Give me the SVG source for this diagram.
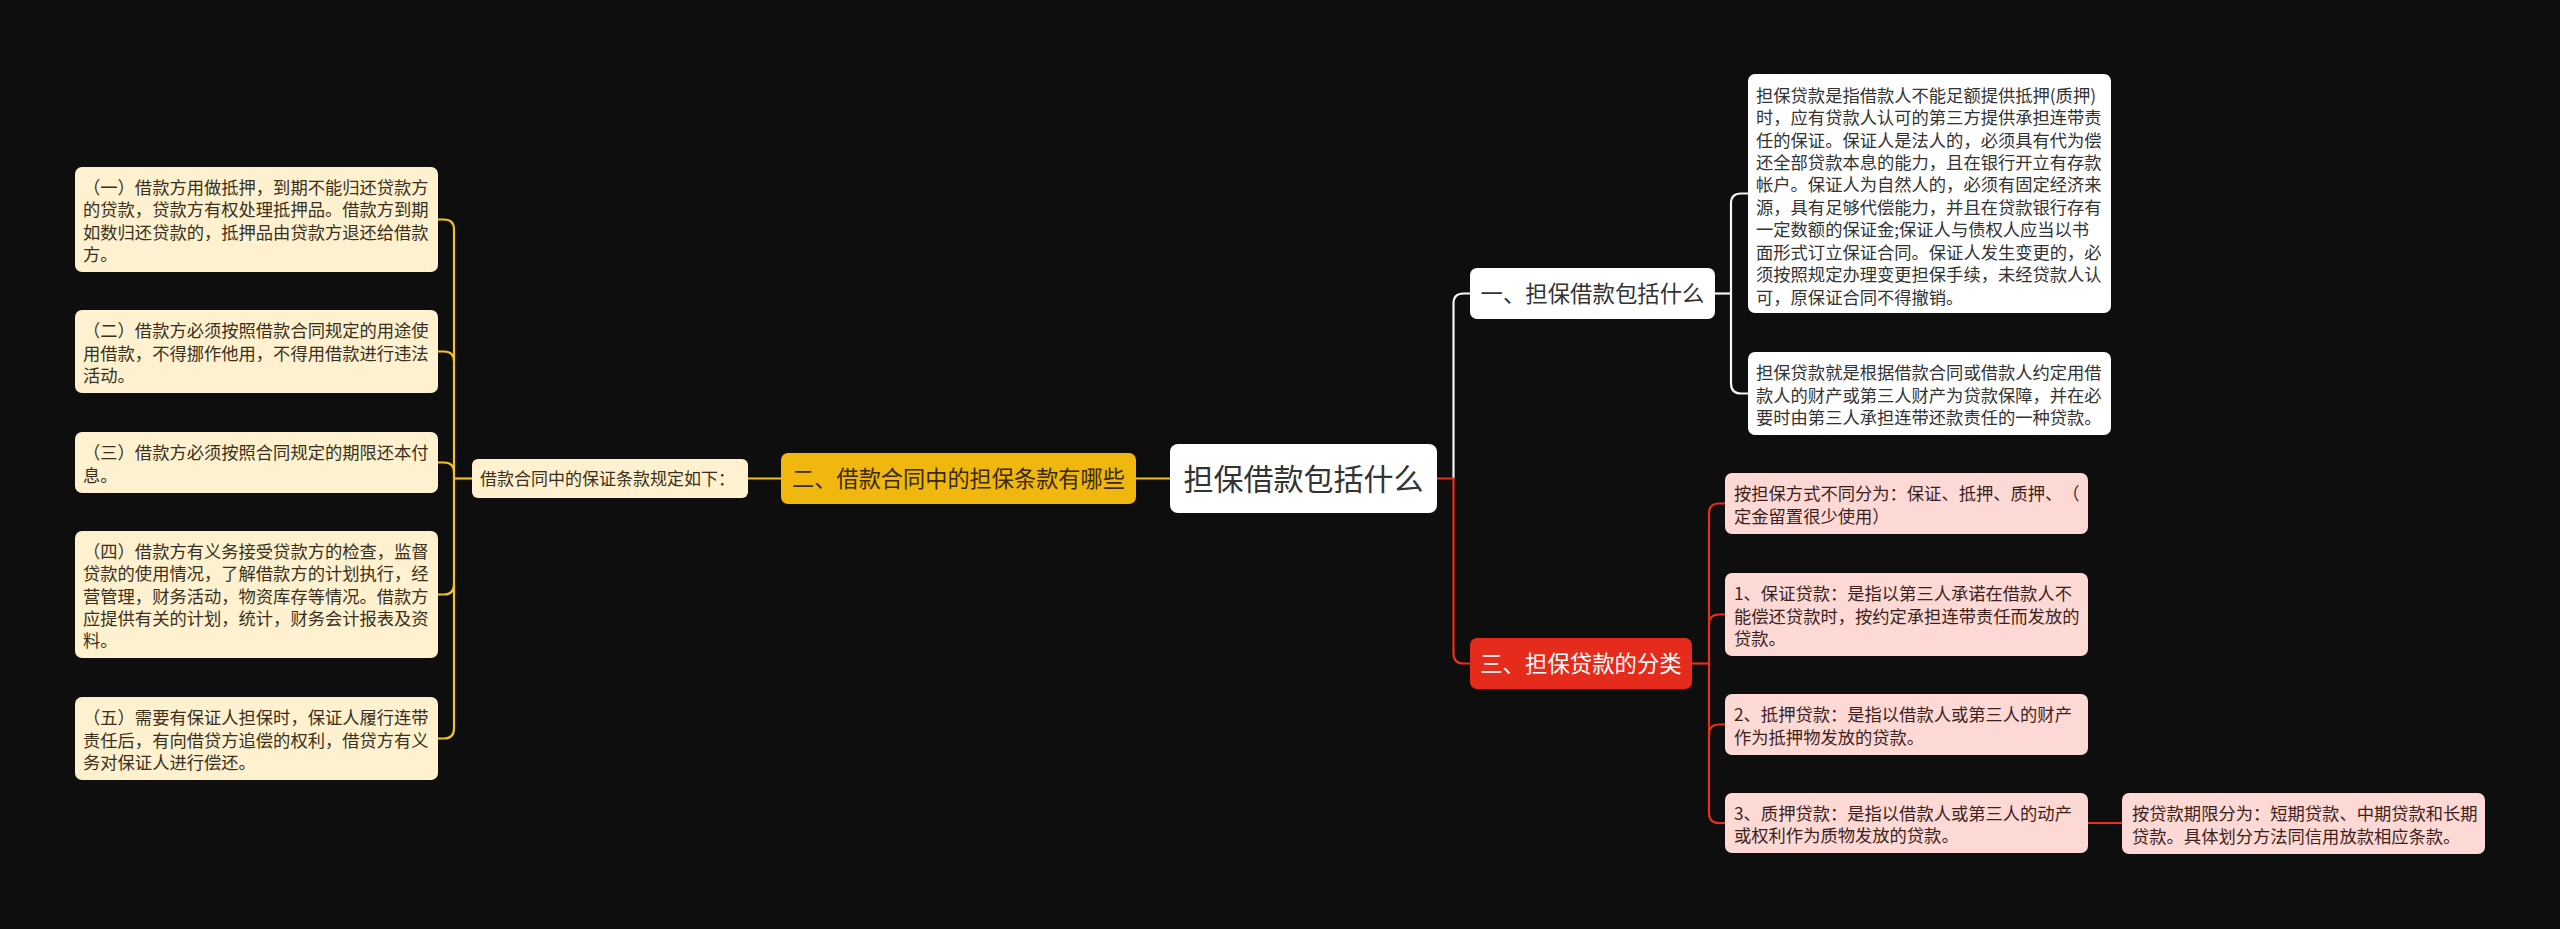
<svg xmlns="http://www.w3.org/2000/svg" width="2560" height="929" viewBox="0 0 2560 929">
<style>
text{font-family:"Noto Sans CJK SC","Noto Sans",sans-serif;text-spacing-trim:space-all;}
.t{font-size:17.3px;}
.cream{fill:#fdf1cf;}
.ct{fill:#3b3020;}
.white{fill:#ffffff;}
.wt{fill:#333333;}
.pink{fill:#fdd9d6;}
.pt{fill:#3d1f1c;}
.ly{fill:none;stroke:#f2c02a;stroke-width:2.2;}
.lw{fill:none;stroke:#f5f5f5;stroke-width:2.2;}
.lr{fill:none;stroke:#e3301f;stroke-width:2.2;}
</style>
<rect x="0" y="0" width="2560" height="929" fill="#0e0e0e"/>
<g id="connectors">
<path class="ly" d="M1170,478.5 H1136"/>
<path class="ly" d="M781,478.5 H748"/>
<path class="ly" d="M472,478.5 H454"/>
<path class="ly" d="M438,219.5 H444 Q454,219.5 454,229.5 V728.5 Q454,738.5 444,738.5 H438"/>
<path class="ly" d="M438,351.5 H444 Q454,351.5 454,361.5"/>
<path class="ly" d="M438,462.5 H444 Q454,462.5 454,472.5"/>
<path class="ly" d="M438,594.5 H444 Q454,594.5 454,584.5"/>
<path class="lw" d="M1453.5,478.5 V303.5 Q1453.5,293.5 1463.5,293.5 H1470"/>
<path class="lr" d="M1437,478.5 H1453.5 V653.5 Q1453.5,663.5 1463.5,663.5 H1470"/>
<path class="lw" d="M1715,293.5 H1731"/>
<path class="lw" d="M1748,193.5 H1741 Q1731,193.5 1731,203.5 V383.5 Q1731,393.5 1741,393.5 H1748"/>
<path class="lr" d="M1692,663.5 H1709"/>
<path class="lr" d="M1725,503.5 H1719 Q1709,503.5 1709,513.5 V813 Q1709,823 1719,823 H1725"/>
<path class="lr" d="M1725,614.5 H1719 Q1709,614.5 1709,624.5"/>
<path class="lr" d="M1725,724.5 H1719 Q1709,724.5 1709,734.5"/>
<path class="lr" d="M2088,823 H2122"/>
</g>
<g id="root">
<rect x="1170" y="444" width="267" height="69" rx="8" class="white"/>
<text x="1303.5" y="490" text-anchor="middle" font-size="30" class="wt">担保借款包括什么</text>
</g>
<g id="n2">
<rect x="781" y="453" width="355" height="51" rx="7" fill="#f0b70e"/>
<text x="958.5" y="487" text-anchor="middle" font-size="22.2" fill="#3a2a06">二、借款合同中的担保条款有哪些</text>
</g>
<g id="n2-label">
<rect x="472" y="459" width="276" height="39" rx="6" class="cream"/>
<text x="480" y="485" font-size="17" class="ct">借款合同中的保证条款规定如下：</text>
</g>
<g id="l1">
<rect x="75" y="167" width="363" height="105" rx="7" class="cream"/>
<text class="t ct" x="83"><tspan x="83" y="193.9">（一）借款方用做抵押，到期不能归还贷款方</tspan><tspan x="83" y="216.3">的贷款，贷款方有权处理抵押品。借款方到期</tspan><tspan x="83" y="238.7">如数归还贷款的，抵押品由贷款方退还给借款</tspan><tspan x="83" y="261.1">方。</tspan></text>
</g>
<g id="l2">
<rect x="75" y="310" width="363" height="83" rx="7" class="cream"/>
<text class="t ct"><tspan x="83" y="337.1">（二）借款方必须按照借款合同规定的用途使</tspan><tspan x="83" y="359.5">用借款，不得挪作他用，不得用借款进行违法</tspan><tspan x="83" y="381.9">活动。</tspan></text>
</g>
<g id="l3">
<rect x="75" y="432" width="363" height="61" rx="7" class="cream"/>
<text class="t ct"><tspan x="83" y="459.3">（三）借款方必须按照合同规定的期限还本付</tspan><tspan x="83" y="481.7">息。</tspan></text>
</g>
<g id="l4">
<rect x="75" y="531" width="363" height="127" rx="7" class="cream"/>
<text class="t ct"><tspan x="83" y="557.7">（四）借款方有义务接受贷款方的检查，监督</tspan><tspan x="83" y="580.1">贷款的使用情况，了解借款方的计划执行，经</tspan><tspan x="83" y="602.5">营管理，财务活动，物资库存等情况。借款方</tspan><tspan x="83" y="624.9">应提供有关的计划，统计，财务会计报表及资</tspan><tspan x="83" y="647.3">料。</tspan></text>
</g>
<g id="l5">
<rect x="75" y="697" width="363" height="83" rx="7" class="cream"/>
<text class="t ct"><tspan x="83" y="724.1">（五）需要有保证人担保时，保证人履行连带</tspan><tspan x="83" y="746.5">责任后，有向借贷方追偿的权利，借贷方有义</tspan><tspan x="83" y="768.9">务对保证人进行偿还。</tspan></text>
</g>
<g id="n1">
<rect x="1470" y="268" width="245" height="51" rx="7" class="white"/>
<text x="1592.5" y="302" text-anchor="middle" font-size="22.4" class="wt">一、担保借款包括什么</text>
</g>
<g id="r1">
<rect x="1748" y="74" width="363" height="239" rx="7" class="white"/>
<text class="t wt"><tspan x="1756" y="101.6">担保贷款是指借款人不能足额提供抵押(质押)</tspan><tspan x="1756" y="124.05">时，应有贷款人认可的第三方提供承担连带责</tspan><tspan x="1756" y="146.5">任的保证。保证人是法人的，必须具有代为偿</tspan><tspan x="1756" y="168.95">还全部贷款本息的能力，且在银行开立有存款</tspan><tspan x="1756" y="191.4">帐户。保证人为自然人的，必须有固定经济来</tspan><tspan x="1756" y="213.85">源，具有足够代偿能力，并且在贷款银行存有</tspan><tspan x="1756" y="236.3">一定数额的保证金;保证人与债权人应当以书</tspan><tspan x="1756" y="258.75">面形式订立保证合同。保证人发生变更的，必</tspan><tspan x="1756" y="281.2">须按照规定办理变更担保手续，未经贷款人认</tspan><tspan x="1756" y="303.65">可，原保证合同不得撤销。</tspan></text>
</g>
<g id="r2">
<rect x="1748" y="352" width="363" height="83" rx="7" class="white"/>
<text class="t wt"><tspan x="1756" y="379.1">担保贷款就是根据借款合同或借款人约定用借</tspan><tspan x="1756" y="401.5">款人的财产或第三人财产为贷款保障，并在必</tspan><tspan x="1756" y="423.9">要时由第三人承担连带还款责任的一种贷款。</tspan></text>
</g>
<g id="n3">
<rect x="1470" y="638" width="222" height="51" rx="7" fill="#e52b1b"/>
<text x="1581" y="672" text-anchor="middle" font-size="22.4" fill="#ffffff">三、担保贷款的分类</text>
</g>
<g id="p1">
<rect x="1725" y="473" width="363" height="61" rx="7" class="pink"/>
<text class="t pt"><tspan x="1734" y="500.3">按担保方式不同分为：保证、抵押、质押、（</tspan><tspan x="1734" y="522.7">定金留置很少使用）</tspan></text>
</g>
<g id="p2">
<rect x="1725" y="573" width="363" height="83" rx="7" class="pink"/>
<text class="t pt"><tspan x="1734" y="600.1">1、保证贷款：是指以第三人承诺在借款人不</tspan><tspan x="1734" y="622.5">能偿还贷款时，按约定承担连带责任而发放的</tspan><tspan x="1734" y="644.9">贷款。</tspan></text>
</g>
<g id="p3">
<rect x="1725" y="694" width="363" height="61" rx="7" class="pink"/>
<text class="t pt"><tspan x="1734" y="721.3">2、抵押贷款：是指以借款人或第三人的财产</tspan><tspan x="1734" y="743.7">作为抵押物发放的贷款。</tspan></text>
</g>
<g id="p4">
<rect x="1725" y="793" width="363" height="60" rx="7" class="pink"/>
<text class="t pt"><tspan x="1734" y="819.8">3、质押贷款：是指以借款人或第三人的动产</tspan><tspan x="1734" y="842.2">或权利作为质物发放的贷款。</tspan></text>
</g>
<g id="p5">
<rect x="2122" y="793" width="363" height="61" rx="7" class="pink"/>
<text class="t pt"><tspan x="2132" y="820.3">按贷款期限分为：短期贷款、中期贷款和长期</tspan><tspan x="2132" y="842.7">贷款。具体划分方法同信用放款相应条款。</tspan></text>
</g>
</svg>
